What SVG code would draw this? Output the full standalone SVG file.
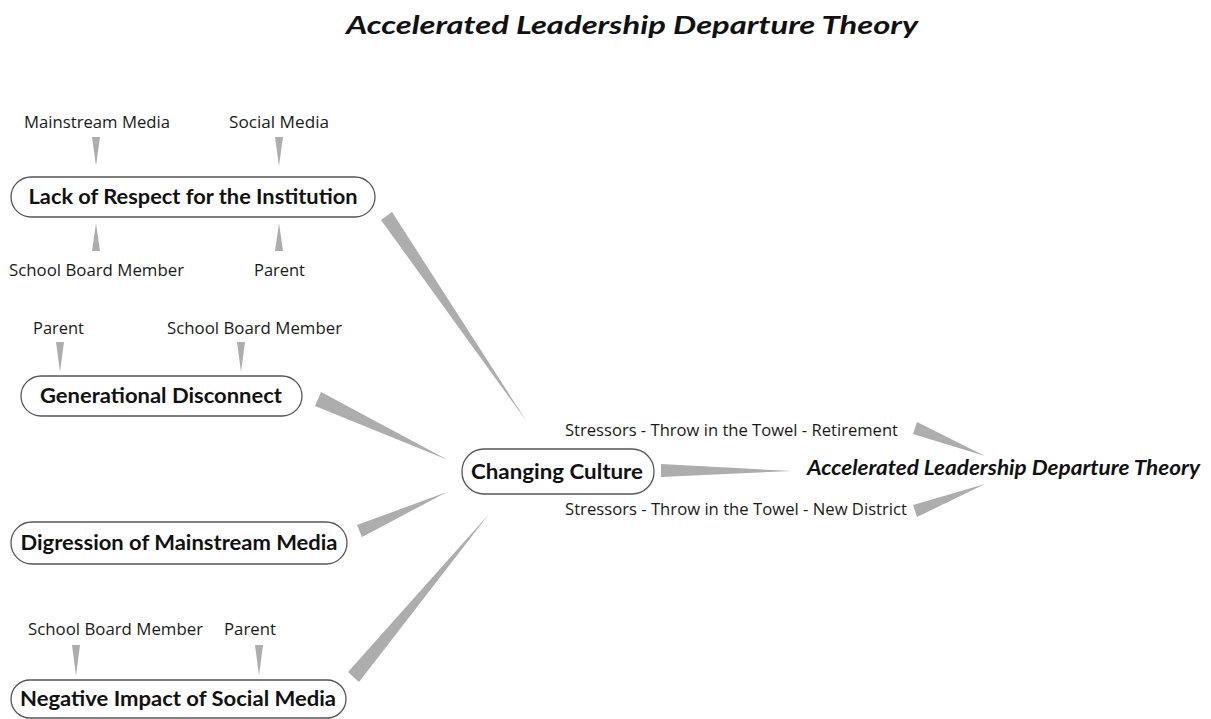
<svg xmlns="http://www.w3.org/2000/svg" width="1211" height="719" viewBox="0 0 1211 719">
  <style>
    text { font-family: Lato, "Open Sans", "Liberation Sans", sans-serif; fill: #111; }
    .lbl { font-family: "Open Sans", Lato, "Liberation Sans", sans-serif; font-size: 15.5px; fill: #1a1a1a; }
    .node-label { font-size: 20px; font-weight: bold; text-anchor: middle; }
    .theory { font-size: 20px; font-weight: bold; font-style: italic; }
    .title { font-size: 25px; font-weight: bold; font-style: italic; }
    .box { fill: #fff; stroke: #555; stroke-width: 1.3; }
    .wedge { fill: #adadad; }
  </style>
  <rect width="1211" height="719" fill="#fff"/>

  <text class="title" x="346" y="34" textLength="572" lengthAdjust="spacingAndGlyphs">Accelerated Leadership Departure Theory</text>

  <!-- tapered connectors -->
  <g id="connectors">
    <!-- influences on "Lack of Respect" -->
    <polygon class="wedge" points="92,137 100,137 96,166"/>
    <polygon class="wedge" points="275,137 283,137 279,166"/>
    <polygon class="wedge" points="92,251 100,251 96,223"/>
    <polygon class="wedge" points="275,251 283,251 279,223"/>
    <!-- influences on "Generational Disconnect" -->
    <polygon class="wedge" points="56,342 64,342 60,372"/>
    <polygon class="wedge" points="237,342 245,342 241,372"/>
    <!-- influences on "Negative Impact" -->
    <polygon class="wedge" points="72,645 80,645 76,676"/>
    <polygon class="wedge" points="255,645 263,645 259,676"/>
    <!-- factors feeding "Changing Culture" -->
    <polygon class="wedge" points="392,212 381,220 527,422"/>
    <polygon class="wedge" points="315,406 321,392 448,460"/>
    <polygon class="wedge" points="362,537 357,525 447,492"/>
    <polygon class="wedge" points="359,682 348,672 489,514"/>
    <!-- into the theory -->
    <polygon class="wedge" points="661,464 661,477 792,471"/>
    <polygon class="wedge" points="913,434 917,422 985,456"/>
    <polygon class="wedge" points="917,517 913,505 985,484"/>
  </g>

  <g id="lack-of-respect">
    <rect class="box" x="11" y="177" width="364" height="40" rx="20"/>
    <text class="node-label" x="193" y="204" textLength="329" lengthAdjust="spacingAndGlyphs">Lack of Respect for the Institution</text>
  </g>
  <g id="lack-mainstream-media"><text class="lbl" x="24" y="128" textLength="146" lengthAdjust="spacingAndGlyphs">Mainstream Media</text></g>
  <g id="lack-social-media"><text class="lbl" x="229" y="128" textLength="100" lengthAdjust="spacingAndGlyphs">Social Media</text></g>
  <g id="lack-school-board"><text class="lbl" x="9" y="276" textLength="175" lengthAdjust="spacingAndGlyphs">School Board Member</text></g>
  <g id="lack-parent"><text class="lbl" x="254" y="276" textLength="51" lengthAdjust="spacingAndGlyphs">Parent</text></g>

  <g id="generational-disconnect">
    <rect class="box" x="21" y="376" width="281" height="40" rx="20"/>
    <text class="node-label" x="161" y="403" textLength="242" lengthAdjust="spacingAndGlyphs">Generational Disconnect</text>
  </g>
  <g id="gen-parent"><text class="lbl" x="33" y="334" textLength="51" lengthAdjust="spacingAndGlyphs">Parent</text></g>
  <g id="gen-school-board"><text class="lbl" x="167" y="334" textLength="175" lengthAdjust="spacingAndGlyphs">School Board Member</text></g>

  <g id="digression-mainstream-media">
    <rect class="box" x="11" y="522" width="336" height="42" rx="21"/>
    <text class="node-label" x="179" y="550" textLength="317" lengthAdjust="spacingAndGlyphs">Digression of Mainstream Media</text>
  </g>

  <g id="negative-impact-social-media">
    <rect class="box" x="11" y="680" width="335" height="38" rx="19"/>
    <text class="node-label" x="178" y="706" textLength="316" lengthAdjust="spacingAndGlyphs">Negative Impact of Social Media</text>
  </g>
  <g id="neg-school-board"><text class="lbl" x="28" y="635" textLength="175" lengthAdjust="spacingAndGlyphs">School Board Member</text></g>
  <g id="neg-parent"><text class="lbl" x="224" y="635" textLength="52" lengthAdjust="spacingAndGlyphs">Parent</text></g>

  <g id="changing-culture">
    <rect class="box" x="462" y="449" width="192" height="45" rx="22"/>
    <text class="node-label" x="557" y="479" textLength="172" lengthAdjust="spacingAndGlyphs">Changing Culture</text>
  </g>

  <g id="stressors-retirement"><text class="lbl" x="565" y="436" textLength="333" lengthAdjust="spacingAndGlyphs">Stressors - Throw in the Towel - Retirement</text></g>
  <g id="stressors-new-district"><text class="lbl" x="565" y="515" textLength="342" lengthAdjust="spacingAndGlyphs">Stressors - Throw in the Towel - New District</text></g>

  <g id="departure-theory">
    <text class="theory" x="807" y="475" textLength="393" lengthAdjust="spacingAndGlyphs">Accelerated Leadership Departure Theory</text>
  </g>
</svg>
